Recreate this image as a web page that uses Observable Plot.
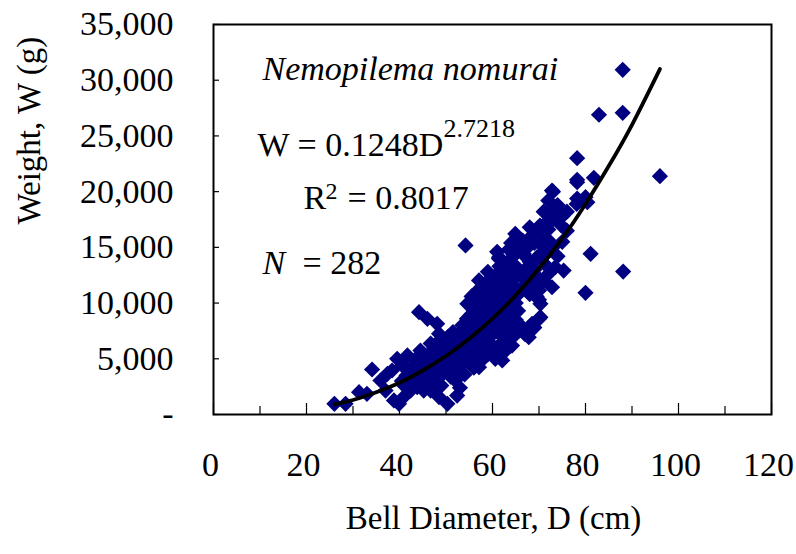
<!DOCTYPE html>
<html>
<head>
<meta charset="utf-8">
<script src="https://cdn.jsdelivr.net/npm/d3@7"></script>
<script src="https://cdn.jsdelivr.net/npm/@observablehq/plot@0.6"></script>
<style>
  html, body { margin: 0; padding: 0; background: #fff; }
  #chart svg { display: block; }
</style>
</head>
<body>
<div id="chart"></div>
<script>
// Bell diameter D (cm) of each jellyfish
const diameter = [
  26, 28.4, 31.3, 33, 34.1, 35.9, 37, 37.4, 38.4, 38.8, 39.5, 39.9, 40.6, 40.9, 41.7, 42, 42.4, 43.8, 44.2, 44.5,
  45.2, 46, 46.7, 46.7, 47.4, 48.1, 48.5, 48.5, 49.5, 50.3, 50.3, 51.3, 51.7, 52, 52.4, 52.4, 53.1, 54.2, 54.6, 54.6,
  54.9, 55.3, 57.1, 57.1, 57.4, 58.1, 60.6, 61.4, 61.4, 62.1, 63.9, 64.2, 64.9, 65.3, 66, 66.7, 67.1, 67.8, 68.2, 68.5,
  68.5, 69.6, 70, 70, 70.2, 70.3, 70.3, 70.3, 72.1, 72.5, 72.8, 72.8, 73, 73.5, 73.5, 74.8, 75.3, 78.1, 78.2, 78.2,
  78.2, 78.2, 80, 80.4, 80, 81.1, 81.8, 82.9, 88, 88, 88.1, 96,
  40.5, 41, 41.5, 42.5, 43, 43.5, 44, 44.5, 45, 45.5, 45,
  46, 46.5, 47, 47, 47.5, 48, 48, 48.5, 49, 49, 49.5, 50, 50, 50.5, 49, 47.5,
  51, 51, 51.5, 52, 52, 52.5, 53, 53, 53.5, 53.5, 54, 54, 54.5, 55, 55, 55, 55.5, 54, 53, 51,
  56, 56, 56, 56, 56.5, 57, 57, 57, 57, 57.5, 58, 58, 58, 58, 58.5, 59, 59, 59, 59, 59, 59.5, 60, 60, 60, 60, 60, 60, 56, 58, 55.5,
  61, 61, 61, 61, 61, 61, 61.5, 62, 62, 62, 62, 62, 62.5, 63, 63, 63, 63, 63, 63, 63.5, 64, 64, 64, 64, 64, 64, 65, 65, 65, 65, 65, 65, 65.5, 62.5,
  66, 66, 66.5, 67, 67, 67, 68, 68, 68, 68, 69, 69, 69, 69.5, 70, 70, 70, 71, 71, 71, 71.5, 72, 72, 72, 73, 73, 74, 74, 75, 75, 76, 76,
  62, 63.5, 60.5, 59, 65.5, 69.5,
  56.5, 57.5, 58.5, 58.5, 59.5, 60.5, 60.5, 60.5, 61.5, 62.5, 63.5, 63.5, 64.5, 64.5, 65.5, 67.5, 68.5, 52.5, 53.5, 54.5,
  55.5, 50.5, 48.5, 46.5, 44, 43, 42, 58, 57, 59, 61, 62, 64, 66, 68, 70, 71, 72, 69, 67
];
// Weight W (g) of each jellyfish, same order
const weight = [
  960, 960, 2000, 1860, 4040, 3050, 2150, 3650, 3950, 1260, 5000, 960, 4400, 1560, 5300, 3950, 2150, 2450, 9180, 5740,
  2150, 8590, 6370, 2150, 3050, 8140, 7240, 1560, 6040, 5140, 960, 4700, 3950, 3050, 1700, 3350, 5740, 15170, 6640, 9930,
  5300, 8140, 4250, 12030, 10230, 10980, 5000, 13970, 14120, 4850, 6190, 6190, 16210, 14560, 10980, 14420, 12030, 6940, 7540, 16060,
  8140, 14120, 11130, 8590, 16960, 15900, 9930, 8730, 15610, 18150, 11420, 20100, 20000, 18460, 13220, 16960, 12920, 18900, 23000, 21060,
  20850, 19380, 19500, 19050, 10920, 14420, 21240, 26900, 30930, 27075, 12830, 21390,
  3000, 2600, 3500, 4200, 3000, 4800, 3400, 4200, 3600, 5000, 2900,
  4500, 5500, 3800, 4900, 6000, 4300, 5200, 6600, 3500, 4700, 5600, 4200, 6300, 7000, 2600, 2600,
  5000, 6000, 7400, 4500, 5500, 6500, 7300, 4300, 8000, 5200, 6000, 7000, 8600, 4800, 6200, 7600, 9000, 3600, 2400, 3400,
  5500, 6800, 8200, 9500, 10500, 5000, 6300, 7400, 8800, 9800, 6000, 7000, 8000, 9200, 11500, 6800, 7800, 8800, 10000, 12800, 11000, 6200, 7200, 8300, 9400, 10500, 12000, 4200, 5000, 10600,
  6000, 7600, 8600, 9800, 11000, 12600, 13300, 7000, 8200, 9200, 10300, 11600, 12400, 7600, 8800, 9800, 11000, 12000, 13400, 14800, 8000, 9200, 10500, 11600, 12800, 14000, 7200, 8500, 10000, 11400, 12400, 13300, 15200, 5600,
  8000, 12500, 15600, 11600, 13000, 14200, 10800, 12600, 13700, 15200, 11800, 13000, 15400, 16500, 10300, 12200, 14200, 12000, 13600, 15000, 17200, 12600, 14600, 16600, 15000, 17500, 14200, 18800, 15500, 17800, 18200, 16500,
  6400, 7000, 5800, 5400, 7900, 10600,
  7600, 6800, 7400, 8600, 9400, 7700, 8900, 11200, 10400, 9700, 10300, 8300, 11100, 13200, 9300, 12400, 11300, 4900, 6200, 5400,
  7000, 5600, 4000, 3300, 5200, 3800, 2800, 10400, 11200, 12000, 14600, 13800, 15400, 14800, 16800, 15600, 18200, 19200, 7800, 7200
];
// Power trend line W = 0.1248 D^2.7218
const trendD = [26, 30, 35, 40, 45, 50, 55, 60, 65, 70, 75, 80, 85, 90, 96];
const trendW = [900, 1300, 2000, 2850, 3950, 5250, 6800, 8600, 10700, 13100, 15800, 18900, 22300, 26000, 31000];

const xTicks = [0, 20, 40, 60, 80, 100, 120];
const xMinorTicks = [10, 30, 50, 70, 90, 110];
const yTicks = [0, 5000, 10000, 15000, 20000, 25000, 30000, 35000];

const speciesName = "Nemopilema nomurai";
const equationMain = "W = 0.1248D";
const equationExp = "2.7218";
const rLabel = "R";
const rExp = "2";
const rValue = "= 0.8017";
const nLabel = "N";
const nValue = "= 282";
const xTitle = "Bell Diameter, D (cm)";
const yTitle = "Weight, W (g)";

const points = diameter.map((d, i) => ({D: d, W: weight[i]}));
const trend = trendD.map((d, i) => ({D: d, W: trendW[i]}));

const W = 796, H = 554, mL = 213, mR = 25, mT = 24, mB = 140;
const plotW = W - mL - mR, plotH = H - mT - mB;
const serif = "'Liberation Serif', 'Times New Roman', Times, serif";
const navy = "#000080";

const ann = (txt, dx, dy, extra = {}) =>
  Plot.text([txt], {text: d => d, frameAnchor: "top-left", dx, dy, textAnchor: "start",
    lineAnchor: "bottom", fontSize: 34, fontFamily: serif, fill: "#000", ...extra});

const chart = Plot.plot({
  width: W, height: H,
  marginLeft: mL, marginRight: mR, marginTop: mT, marginBottom: mB,
  style: {fontFamily: serif, fontSize: "34px", background: "#fff", color: "#000", overflow: "visible"},
  x: {domain: [0, 120]},
  y: {domain: [0, 35000]},
  marks: [
    Plot.axisX({ticks: xTicks, tickSize: 0, tickPadding: 37, fontSize: 34, fontFamily: serif, label: null, dx: -3}),
    Plot.axisY({ticks: yTicks, tickSize: 0, tickPadding: 40, fontSize: 34, fontFamily: serif, label: null,
      tickFormat: d => d === 0 ? "-" : d3.format(",")(d)}),
    Plot.ruleX(xTicks, {insetTop: plotH - 11, stroke: "#000", strokeWidth: 1.2}),
    Plot.ruleX(xMinorTicks, {insetTop: plotH - 8, stroke: "#000", strokeWidth: 1.2}),
    Plot.ruleY(yTicks, {insetRight: plotW - 6, stroke: "#000", strokeWidth: 1.2}),
    Plot.dot(points, {x: "D", y: "W", symbol: "diamond2", r: 7.3, fill: navy, stroke: "none"}),
    Plot.line(trend, {x: "D", y: "W", stroke: "#000", strokeWidth: 3.8, curve: "natural"}),
    Plot.frame({stroke: "#000", strokeWidth: 2}),
    ann(speciesName, 49, 55, {fontStyle: "italic"}),
    ann(equationMain, 44, 131),
    ann(equationExp, 230, 112, {fontSize: 26}),
    ann(rLabel, 90, 184),
    ann(rExp, 112, 174, {fontSize: 24}),
    ann(rValue, 134, 184),
    ann(nLabel, 49, 249, {fontStyle: "italic"}),
    ann(nValue, 89, 249),
    Plot.text([xTitle], {text: d => d, frameAnchor: "bottom", dx: 1, dy: 114, fontSize: 33, fontFamily: serif, fill: "#000"}),
    Plot.text([yTitle], {text: d => d, frameAnchor: "left", dx: -184, dy: 5, rotate: -90, fontSize: 33, fontFamily: serif, fill: "#000"})
  ]
});
document.getElementById("chart").appendChild(chart);
</script>
</body>
</html>
